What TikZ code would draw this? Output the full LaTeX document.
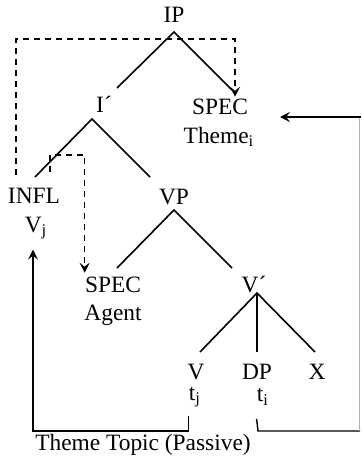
\documentclass[tikz,border=0pt]{standalone}
\usepackage{fontspec}
\setmainfont{Liberation Serif}
\usetikzlibrary{arrows.meta}
\begin{document}
\begin{tikzpicture}[x=0.5pt,y=-0.5pt,
  lbl/.style={inner sep=0pt, font=\fontsize{11.7}{14}\selectfont},
  branch/.style={line width=0.8pt},
  move/.style={line width=0.7pt, dash pattern=on 3pt off 2.5pt},
  link/.style={line width=0.7pt},
  tip/.style={-{Stealth[length=5pt,width=5pt,inset=2pt]}}
]
\useasboundingbox (0,0) rectangle (361,466);

% labels of the tree
\node[lbl] (IP)    at (174,15)  {IP};
\node[lbl] (Ibar)  at (104,104) {I´};
\node[lbl] (SPECt) at (220,107) {SPEC};
\node[lbl] (Theme) at (219,137) {Theme\textsubscript{i}};
\node[lbl] (INFL)  at (34,196)  {INFL};
\node[lbl] (Vj)    at (36,228)  {V\textsubscript{j}};
\node[lbl] (VP)    at (174,197) {VP};
\node[lbl] (SPECa) at (113,285) {SPEC};
\node[lbl] (Agent) at (113,315) {Agent};
\node[lbl] (Vbar)  at (254,285) {V´};
\node[lbl] (V)     at (196,372) {V};
\node[lbl] (DP)    at (257,372) {DP};
\node[lbl] (X)     at (317,372) {X};
\node[lbl] (tj)    at (195,397) {t\textsubscript{j}};
\node[lbl] (ti)    at (263,397) {t\textsubscript{i}};
\node[lbl] (cap)   at (143,445) {Theme Topic (Passive)};

% branching points
\coordinate (IPr)  at (174,32);
\coordinate (Ir)   at (92,119);
\coordinate (VPr)  at (174,210);
\coordinate (Vr)   at (257,293);
% entry point of the arrow reaching the theme position
\coordinate (thIn) at (280,117);

\draw[branch] (117,88) -- (IPr) -- (232,90);
\draw[branch] (35,177) -- (Ir) -- (150,177);
\draw[branch] (117,268) -- (VPr) -- (232,268);
\draw[branch] (200,352) -- (Vr) -- (315,352);
\draw[branch] (Vr) -- (257,352);

% dashed movement paths
\draw[move,tip] ([xshift=-9pt]INFL.north) ++(0,-13) -- ++(0,-136) -| ([xshift=7.5pt,yshift=1pt]SPECt.north);
\draw[move,tip] ([xshift=8pt]INFL.north) ++(0,-16) -- ++(0,-17) -| ([yshift=2pt]SPECa.north west);

% solid chains
\draw[link,tip] (tj.south west) ++(0,8) |- (33,431) -- ([xshift=-1.5pt,yshift=-5pt]Vj.south);
\draw[link] (ti.south west) ++(0,13) -- (258,431) -- (360,431);
\draw[line width=0.4pt, gray!60] (359.5,431) -- (359.5,117);
\draw[link,tip] (361,117) -- (thIn);
\end{tikzpicture}
\end{document}
